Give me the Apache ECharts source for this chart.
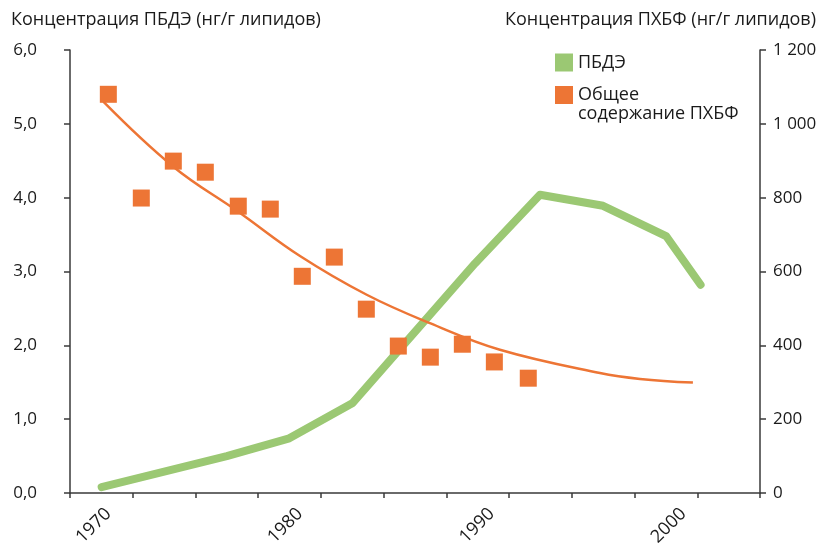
<!DOCTYPE html>
<html>
<head>
<meta charset="utf-8">
<script src="https://cdn.jsdelivr.net/npm/echarts@6/dist/echarts.min.js"></script>
<style>
  html, body { margin: 0; padding: 0; background: #fff; }
  #chart { width: 821px; height: 544px; }
</style>
</head>
<body>
<div id="chart"></div>
<script>
// ПБДЭ (ng/g lipid, left axis)
var pbdeYears = [1969.65, 1976.18, 1979.44, 1982.75, 1989.13, 1992.52, 1995.81, 1999.1, 2000.9]
var pbdeValues = [0.08, 0.5, 0.74, 1.22, 3.11, 4.04, 3.89, 3.48, 2.82]

// ПХБФ total (ng/g lipid, right axis)
var pcbYears = [1970.0, 1971.72, 1973.39, 1975.06, 1976.78, 1978.45, 1980.12, 1981.79, 1983.46, 1985.13, 1986.8, 1988.47, 1990.14, 1991.91]
var pcbValues = [1080, 799, 899, 869, 777, 769, 587, 639, 498, 398, 368, 403, 355, 311]

// trend curve
var trendYears = [1969.74, 1973.39, 1976.78, 1980.0, 1983.48, 1986.78, 1990.43, 1995.65, 1997.74, 2000.5]
var trendValues = [1060, 884, 762, 642, 537, 460, 388, 325, 309, 299]

var yearLabels = [1970, 1980, 1990, 2000]
var xMin = 1968
var xMax = 2004
var xTickCount = 11

var pbdeName = 'ПБДЭ'
var pcbName = 'Общее содержание ПХБФ'

function pairs (xs, ys) {
  return xs.map(function (x, i) { return [x, ys[i]] })
}

var xTicks = []
for (var i = 0; i <= xTickCount; i++) {
  xTicks.push(xMin + (xMax - xMin) * i / xTickCount)
}

var font = "'Open Sans', sans-serif"
var textColor = '#1a1a1a'
var axisColor = '#3a3a3a'
var green = '#9bc873'
var orange = '#ed7535'

var chart = echarts.init(document.getElementById('chart'))
var option = {
  animation: false,
  textStyle: { fontFamily: font },
  title: [
    {
      text: 'Концентрация ПБДЭ (нг/г липидов)',
      left: 6,
      top: 6,
      textStyle: { fontFamily: font, fontSize: 18, fontWeight: 'normal', color: textColor }
    },
    {
      text: 'Концентрация ПХБФ (нг/г липидов)',
      right: 0,
      top: 6,
      textStyle: { fontFamily: font, fontSize: 18, fontWeight: 'normal', color: textColor }
    }
  ],
  legend: {
    orient: 'vertical',
    left: 555,
    top: 53,
    padding: 0,
    icon: 'rect',
    itemWidth: 18,
    itemHeight: 18,
    itemGap: -5.5,
    // two-line name: an empty first line keeps the square next to "Общее"
    formatter: function (name) {
      return name.indexOf(' ') > 0 ? '\n' + name.replace(' ', '\n') : name
    },
    textStyle: { fontFamily: font, fontSize: 18, color: textColor, lineHeight: 19 },
    data: [pbdeName, pcbName]
  },
  grid: { left: 70, right: 61, top: 50, bottom: 51, outerBoundsMode: 'none' },
  xAxis: {
    type: 'value',
    min: xMin,
    max: xMax,
    splitLine: { show: false },
    axisLine: { lineStyle: { color: axisColor, width: 1.5 } },
    axisTick: { show: true, length: 5, customValues: xTicks, lineStyle: { color: axisColor, width: 1.5 } },
    axisLabel: {
      customValues: yearLabels,
      rotate: 45,
      margin: 18,
      fontSize: 18,
      fontFamily: font,
      color: textColor,
      formatter: function (v) { return String(v) }
    }
  },
  yAxis: [
    {
      type: 'value',
      min: 0,
      max: 6,
      interval: 1,
      position: 'left',
      splitLine: { show: false },
      axisLine: { show: true, lineStyle: { color: axisColor, width: 1.5 } },
      axisTick: { show: true, length: 6, lineStyle: { color: axisColor, width: 1.5 } },
      axisLabel: {
        margin: 33,
        fontSize: 17,
        fontFamily: font,
        color: textColor,
        formatter: function (v) { return v.toFixed(1).replace('.', ',') }
      }
    },
    {
      type: 'value',
      min: 0,
      max: 1200,
      interval: 200,
      position: 'right',
      splitLine: { show: false },
      axisLine: { show: true, lineStyle: { color: axisColor, width: 1.5 } },
      axisTick: { show: true, length: 6, lineStyle: { color: axisColor, width: 1.5 } },
      axisLabel: {
        margin: 13,
        fontSize: 17,
        fontFamily: font,
        color: textColor,
        formatter: function (v) { return String(v).replace(/\B(?=(\d{3})+(?!\d))/g, ' ') }
      }
    }
  ],
  series: [
    {
      name: pbdeName,
      type: 'line',
      yAxisIndex: 0,
      data: pairs(pbdeYears, pbdeValues),
      symbol: 'none',
      itemStyle: { color: green },
      lineStyle: { color: green, width: 8, cap: 'round', join: 'round' },
      z: 2
    },
    {
      name: 'trend',
      type: 'line',
      yAxisIndex: 1,
      data: pairs(trendYears, trendValues),
      smooth: 0.4,
      symbol: 'none',
      lineStyle: { color: orange, width: 2.5 },
      z: 3
    },
    {
      name: pcbName,
      type: 'scatter',
      yAxisIndex: 1,
      data: pairs(pcbYears, pcbValues),
      symbol: 'rect',
      symbolSize: 17,
      itemStyle: { color: orange, opacity: 1 },
      z: 4
    }
  ]
}
chart.setOption(option)
</script>
</body>
</html>
